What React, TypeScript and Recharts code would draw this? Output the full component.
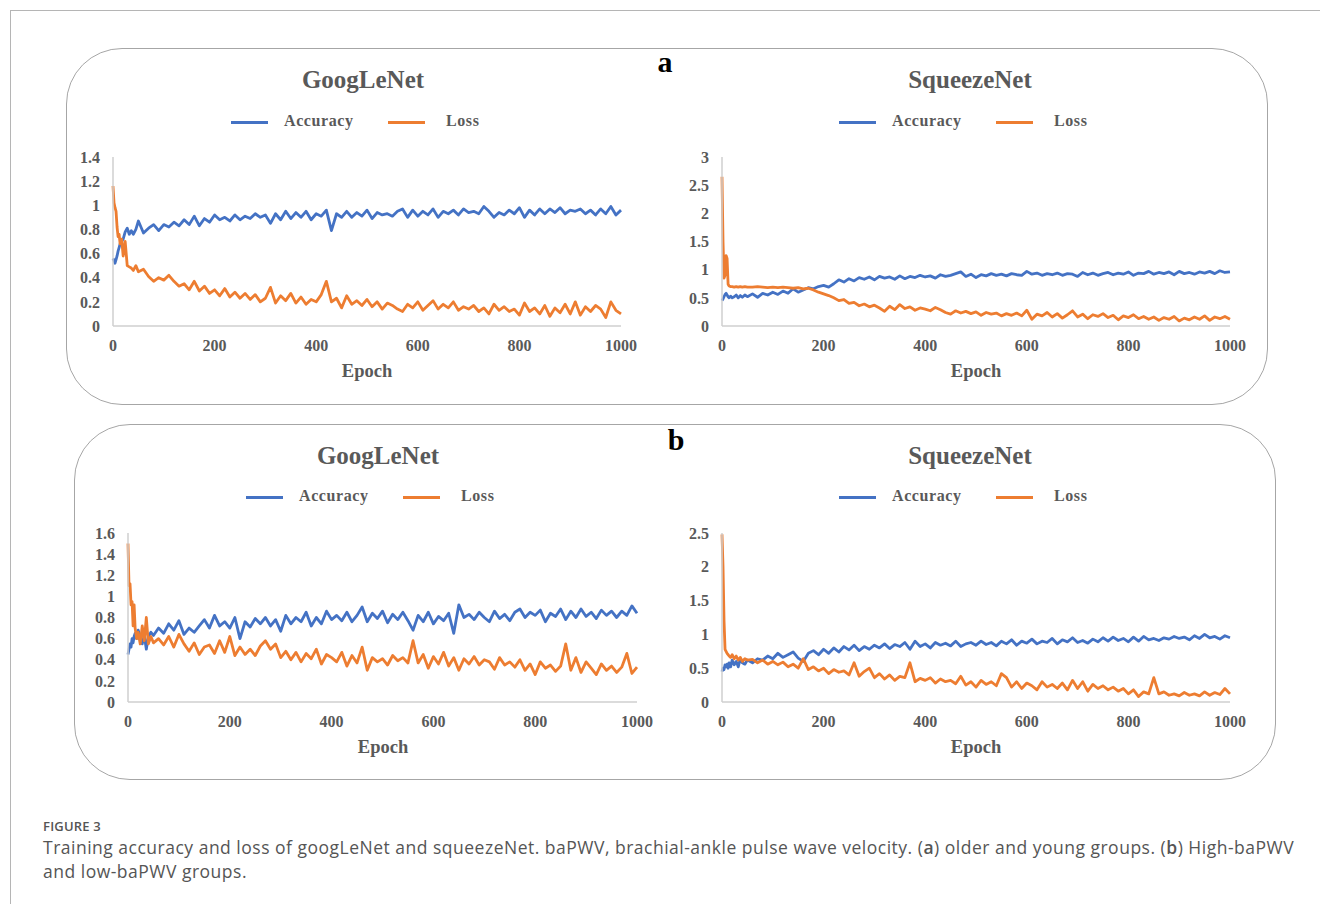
import React from 'react';
import { LineChart, Line, XAxis, YAxis } from 'recharts';

// epochs sampled from the plots (denser at the start where the curves move fast)
const EPOCHS = [
  0, 2, 4, 6, 8, 10, 12, 14, 17, 20, 24, 28, 32, 36, 40, 45, 50,
  60, 70, 80, 90, 100, 110, 120, 130, 140, 150,
  160, 170, 180, 190, 200, 210, 220, 230, 240, 250,
  260, 270, 280, 290, 300, 310, 320, 330, 340, 350,
  360, 370, 380, 390, 400, 410, 420, 430, 440, 450,
  460, 470, 480, 490, 500, 510, 520, 530, 540, 550,
  560, 570, 580, 590, 600, 610, 620, 630, 640, 650,
  660, 670, 680, 690, 700, 710, 720, 730, 740, 750,
  760, 770, 780, 790, 800, 810, 820, 830, 840, 850,
  860, 870, 880, 890, 900, 910, 920, 930, 940, 950,
  960, 970, 980, 990, 1000,
];

const X_TICKS = [0, 200, 400, 600, 800, 1000];

// (a) GoogLeNet
const googAccA = [
  0.56, 0.54, 0.52, 0.55, 0.58, 0.62, 0.65, 0.68, 0.7, 0.72, 0.78, 0.81, 0.76, 0.79, 0.76, 0.8, 0.87,
  0.77, 0.81, 0.84, 0.79, 0.84, 0.82, 0.86, 0.83, 0.88, 0.84,
  0.91, 0.83, 0.89, 0.86, 0.92, 0.88, 0.9, 0.87, 0.92, 0.88,
  0.91, 0.89, 0.93, 0.9, 0.92, 0.85, 0.93, 0.88, 0.95, 0.89,
  0.94, 0.9, 0.95, 0.88, 0.93, 0.91, 0.96, 0.79, 0.93, 0.9,
  0.95, 0.9, 0.94, 0.91, 0.96, 0.89, 0.94, 0.92, 0.93, 0.91,
  0.95, 0.97, 0.9, 0.96, 0.91, 0.95, 0.92, 0.97, 0.9, 0.95,
  0.93, 0.96, 0.92, 0.97, 0.94, 0.95, 0.93, 0.99, 0.95, 0.9,
  0.94, 0.92, 0.96, 0.93, 0.98, 0.9, 0.96, 0.92, 0.97, 0.93,
  0.97, 0.94, 0.98, 0.93, 0.96, 0.95, 0.97, 0.93, 0.96, 0.92,
  0.97, 0.93, 0.99, 0.92, 0.96,
];
const googLossA = [
  1.16, 1.02, 0.98, 0.95, 0.82, 0.74, 0.76, 0.68, 0.72, 0.58, 0.7, 0.5, 0.49, 0.48, 0.46, 0.5, 0.45,
  0.47, 0.41, 0.37, 0.4, 0.38, 0.42, 0.37, 0.33, 0.35, 0.3,
  0.37, 0.29, 0.33, 0.27, 0.3, 0.25, 0.31, 0.24, 0.28, 0.23,
  0.27, 0.22, 0.26, 0.2, 0.23, 0.32, 0.19, 0.25, 0.21, 0.27,
  0.19, 0.24, 0.18, 0.22, 0.2, 0.26, 0.37, 0.2, 0.23, 0.15,
  0.25, 0.18, 0.21, 0.17, 0.22, 0.16, 0.2, 0.14, 0.19, 0.17,
  0.14, 0.12, 0.18, 0.15, 0.2, 0.13, 0.17, 0.21, 0.14, 0.18,
  0.15, 0.2, 0.13, 0.16, 0.14, 0.17, 0.12, 0.15, 0.1, 0.18,
  0.13, 0.16, 0.12, 0.14, 0.09, 0.19, 0.12, 0.15, 0.1, 0.17,
  0.08, 0.15, 0.11, 0.18, 0.1, 0.2, 0.09, 0.16, 0.12, 0.17,
  0.14, 0.07, 0.2, 0.13, 0.1,
];

// (a) SqueezeNet
const squeezeAccA = [
  0.45, 0.48, 0.52, 0.56, 0.58, 0.55, 0.52, 0.5, 0.53, 0.5, 0.52, 0.55, 0.5, 0.54, 0.51, 0.55, 0.52,
  0.57, 0.51, 0.58, 0.55, 0.6, 0.56, 0.62, 0.58, 0.66, 0.6,
  0.64, 0.68, 0.66, 0.7, 0.72, 0.69, 0.75, 0.82, 0.78, 0.84,
  0.8, 0.86, 0.83, 0.87, 0.82, 0.88, 0.85, 0.87, 0.83, 0.89,
  0.84, 0.88, 0.86, 0.9, 0.87, 0.89, 0.85, 0.91, 0.88, 0.9,
  0.93, 0.96, 0.88, 0.92, 0.86, 0.91, 0.89, 0.93, 0.9, 0.92,
  0.89, 0.93, 0.91, 0.9, 0.97, 0.92, 0.94, 0.9, 0.93, 0.91,
  0.94, 0.9, 0.93, 0.92, 0.88, 0.95, 0.91, 0.94, 0.9, 0.93,
  0.95, 0.91, 0.94, 0.92, 0.96, 0.9, 0.94, 0.93, 0.97, 0.92,
  0.95, 0.93, 0.96, 0.91, 0.97, 0.93, 0.95, 0.92, 0.96, 0.94,
  0.97, 0.93, 0.98, 0.95, 0.96,
];
const squeezeLossA = [
  2.65, 1.5, 0.85, 0.9, 1.25, 1.2, 0.74, 0.71, 0.7, 0.7, 0.69, 0.7, 0.69, 0.7, 0.69, 0.7, 0.69,
  0.69, 0.7, 0.69, 0.68, 0.69, 0.68, 0.69, 0.68, 0.67, 0.68,
  0.66, 0.67, 0.64, 0.6, 0.57, 0.54, 0.5, 0.45, 0.47, 0.4,
  0.42, 0.36, 0.39, 0.34, 0.37, 0.32, 0.26, 0.35, 0.29, 0.38,
  0.31, 0.34, 0.28, 0.32, 0.3, 0.27, 0.33, 0.29, 0.24, 0.21,
  0.27, 0.23, 0.26, 0.22, 0.25, 0.19, 0.24, 0.21, 0.23, 0.18,
  0.22, 0.19, 0.23, 0.18, 0.28, 0.12, 0.21, 0.18, 0.24, 0.16,
  0.22, 0.14, 0.2, 0.27, 0.16, 0.21, 0.13, 0.2, 0.17, 0.22,
  0.15, 0.19, 0.11, 0.18, 0.15, 0.2, 0.13, 0.17, 0.12, 0.16,
  0.1, 0.15, 0.12, 0.17, 0.09, 0.14, 0.11, 0.16, 0.12, 0.18,
  0.1, 0.16, 0.13, 0.17, 0.12,
];

// (b) GoogLeNet
const googAccB = [
  0.45, 0.5, 0.55, 0.52, 0.6, 0.56, 0.62, 0.65, 0.6, 0.68, 0.62, 0.55, 0.63, 0.5, 0.62, 0.66, 0.63,
  0.7, 0.65, 0.74, 0.68, 0.77, 0.64, 0.7, 0.66, 0.72, 0.78,
  0.7, 0.82, 0.72, 0.76, 0.7, 0.8, 0.6, 0.76, 0.71, 0.79,
  0.74, 0.8, 0.72, 0.78, 0.67, 0.82, 0.74, 0.8, 0.76, 0.85,
  0.72, 0.8, 0.74, 0.86, 0.78, 0.82, 0.77, 0.85, 0.76, 0.82,
  0.9, 0.76, 0.84, 0.79, 0.86, 0.75, 0.83, 0.78, 0.85, 0.77,
  0.68, 0.82, 0.76, 0.85, 0.74, 0.81, 0.77, 0.84, 0.65, 0.92,
  0.8, 0.83, 0.78, 0.85, 0.8, 0.76, 0.86, 0.79, 0.83, 0.77,
  0.85, 0.88, 0.8, 0.85, 0.82, 0.87, 0.76, 0.84, 0.81, 0.88,
  0.78, 0.86, 0.8, 0.88, 0.81, 0.85, 0.79, 0.87, 0.82, 0.86,
  0.8, 0.86, 0.82, 0.91, 0.84,
];
const googLossB = [
  1.5, 1.1, 1.12, 0.92, 0.95, 0.72, 0.92, 0.7, 0.6, 0.66, 0.55, 0.72, 0.58, 0.8, 0.55, 0.62, 0.56,
  0.6, 0.54, 0.62, 0.52, 0.64, 0.55, 0.48, 0.56, 0.45, 0.52,
  0.54, 0.46, 0.58, 0.47, 0.62, 0.44, 0.52, 0.45, 0.5, 0.44,
  0.53, 0.58, 0.5, 0.55, 0.42, 0.48, 0.4, 0.47, 0.38, 0.46,
  0.41, 0.5, 0.36, 0.45, 0.42, 0.38, 0.47, 0.34, 0.44, 0.37,
  0.52, 0.3, 0.42, 0.38, 0.41, 0.35, 0.44, 0.39, 0.42, 0.37,
  0.58, 0.37, 0.45, 0.32, 0.43, 0.36, 0.47, 0.34, 0.42, 0.3,
  0.41, 0.36, 0.43, 0.35, 0.4, 0.38, 0.31, 0.42, 0.35, 0.38,
  0.33, 0.4, 0.3, 0.36, 0.26, 0.38, 0.32, 0.35, 0.29, 0.34,
  0.55, 0.3, 0.42, 0.28, 0.38, 0.32, 0.26, 0.36, 0.3, 0.34,
  0.28, 0.33, 0.46, 0.27, 0.33,
];

// (b) SqueezeNet
const squeezeAccB = [
  0.45, 0.5, 0.48, 0.55, 0.52, 0.56, 0.5, 0.58, 0.52, 0.62, 0.55, 0.6, 0.52, 0.64, 0.58, 0.56, 0.62,
  0.58, 0.64, 0.62, 0.68, 0.64, 0.72, 0.66, 0.7, 0.74, 0.65,
  0.6, 0.72, 0.76, 0.7, 0.78, 0.72, 0.8, 0.74, 0.82, 0.77,
  0.84, 0.76, 0.82, 0.78, 0.84, 0.8, 0.86, 0.79, 0.85, 0.82,
  0.88, 0.78, 0.9, 0.82, 0.86, 0.8, 0.88, 0.84, 0.87, 0.83,
  0.9, 0.82, 0.86, 0.88, 0.84, 0.9, 0.85, 0.88, 0.83, 0.9,
  0.86, 0.92, 0.84, 0.9, 0.87, 0.93, 0.86, 0.9, 0.88, 0.94,
  0.86, 0.92, 0.89, 0.95, 0.88, 0.91, 0.87, 0.93, 0.89, 0.95,
  0.9, 0.96, 0.91, 0.94, 0.89, 0.96, 0.9, 0.97, 0.92, 0.94,
  0.91, 0.95, 0.93, 0.97, 0.94, 0.96, 0.92, 0.98, 0.94, 1.0,
  0.95, 0.97, 0.93, 0.98, 0.95,
];
const squeezeLossB = [
  2.48, 2.0, 1.2, 0.78, 0.75, 0.72, 0.7, 0.68, 0.66, 0.7, 0.64, 0.68, 0.62, 0.66, 0.6, 0.64, 0.62,
  0.63, 0.58, 0.62, 0.56, 0.6, 0.55, 0.59, 0.52, 0.56, 0.5,
  0.64, 0.48, 0.52, 0.46, 0.5, 0.42, 0.48, 0.44, 0.46, 0.4,
  0.58, 0.38, 0.45, 0.5, 0.36, 0.42, 0.34, 0.4, 0.32, 0.38,
  0.36, 0.58, 0.3, 0.35, 0.32, 0.36, 0.28, 0.34, 0.3, 0.32,
  0.27, 0.38, 0.25, 0.3, 0.22, 0.32, 0.26, 0.3, 0.24, 0.42,
  0.36, 0.22, 0.3, 0.2, 0.28, 0.24, 0.18, 0.3, 0.22, 0.26,
  0.2, 0.28, 0.18, 0.32, 0.2, 0.3, 0.16, 0.26, 0.2, 0.24,
  0.18, 0.22, 0.16, 0.2, 0.12, 0.18, 0.08, 0.15, 0.12, 0.36,
  0.12, 0.15, 0.1, 0.12, 0.09, 0.14, 0.1, 0.12, 0.09, 0.15,
  0.1, 0.14, 0.11, 0.2, 0.12,
];

const BLUE = '#4472C4';
const ORANGE = '#ED7D31';
const GREY_TEXT = '#595959';
const SERIF = '"Liberation Serif", "Times New Roman", serif';
const SANS = '"Open Sans", sans-serif';

const rows = (acc: number[], loss: number[]) =>
  EPOCHS.map((epoch, i) => ({ epoch, acc: acc[i], loss: loss[i] }));

interface PanelChartProps {
  title: string;
  acc: number[];
  loss: number[];
  yTicks: number[];
  plotLeft: number;
  plotTop: number;
  plotW: number;
  plotH: number;
  titleX: number;
  titleY: number;
  legendX: number;
  legendY: number;
  epochX: number;
  epochY: number;
}

function PanelChart(p: PanelChartProps) {
  const yw = 60;
  const mTop = 10;
  const mRight = 40;
  const xh = 40;
  const tick = { fill: GREY_TEXT, fontSize: 16, fontWeight: 700, fontFamily: SERIF };
  const label: React.CSSProperties = {
    position: 'absolute',
    fontFamily: SERIF,
    fontWeight: 700,
    color: GREY_TEXT,
    whiteSpace: 'nowrap',
    lineHeight: 1,
  };
  return (
    <>
      <div style={{ ...label, left: p.titleX, top: p.titleY, fontSize: 25, transform: 'translate(-50%, -50%)' }}>
        {p.title}
      </div>
      <div style={{ position: 'absolute', left: p.legendX, top: p.legendY - 1.5, width: 37, height: 3, background: BLUE }} />
      <div style={{ ...label, left: p.legendX + 53, top: p.legendY, fontSize: 16, letterSpacing: 0.6, transform: 'translateY(-55%)' }}>
        Accuracy
      </div>
      <div style={{ position: 'absolute', left: p.legendX + 157, top: p.legendY - 1.5, width: 37, height: 3, background: ORANGE }} />
      <div style={{ ...label, left: p.legendX + 215, top: p.legendY, fontSize: 16, letterSpacing: 0.6, transform: 'translateY(-55%)' }}>
        Loss
      </div>
      <div style={{ ...label, left: p.epochX, top: p.epochY, fontSize: 18.5, transform: 'translate(-50%, -50%)' }}>
        Epoch
      </div>
      <div style={{ position: 'absolute', left: p.plotLeft - yw, top: p.plotTop - mTop }}>
        <LineChart
          width={p.plotW + yw + mRight}
          height={p.plotH + mTop + xh}
          data={rows(p.acc, p.loss)}
          margin={{ top: mTop, right: mRight, bottom: 0, left: 0 }}
        >
          <XAxis
            dataKey="epoch"
            type="number"
            domain={[0, 1000]}
            ticks={X_TICKS}
            interval={0}
            height={xh}
            tickLine={false}
            tickMargin={8}
            axisLine={{ stroke: '#cfcfcf', strokeWidth: 1.5 }}
            tick={tick}
          />
          <YAxis
            type="number"
            domain={[0, p.yTicks[p.yTicks.length - 1]]}
            ticks={p.yTicks}
            interval={0}
            width={yw}
            tickLine={false}
            tickMargin={7}
            axisLine={{ stroke: '#cfcfcf', strokeWidth: 1.5 }}
            tick={tick}
          />
          <Line type="linear" dataKey="acc" stroke={BLUE} strokeWidth={2.8} strokeLinejoin="round" dot={false} isAnimationActive={false} />
          <Line type="linear" dataKey="loss" stroke={ORANGE} strokeWidth={2.8} strokeLinejoin="round" dot={false} isAnimationActive={false} />
        </LineChart>
      </div>
    </>
  );
}

const panelBox: React.CSSProperties = {
  position: 'absolute',
  border: '1.5px solid #a6a6a6',
  borderRadius: 56,
  boxSizing: 'border-box',
};

const panelLetter: React.CSSProperties = {
  position: 'absolute',
  transform: 'translate(-50%, -50%)',
  fontFamily: SERIF,
  fontWeight: 700,
  fontSize: 30,
  color: '#000',
  lineHeight: 1,
};

export default function App() {
  return (
    <div style={{ position: 'absolute', left: 0, top: 0, width: 1320, height: 904, background: '#fff', overflow: 'hidden' }}>
      {/* outer figure frame */}
      <div style={{ position: 'absolute', left: 10, top: 10, width: 1330, height: 910, border: '1px solid #b5b5b5', boxSizing: 'border-box' }} />

      <div style={{ ...panelBox, left: 66, top: 48, width: 1202, height: 357 }} />
      <div style={{ ...panelBox, left: 74, top: 424, width: 1202, height: 356 }} />

      <div style={{ ...panelLetter, left: 665, top: 62 }}>a</div>
      <div style={{ ...panelLetter, left: 676, top: 440 }}>b</div>

      <PanelChart title="GoogLeNet" acc={googAccA} loss={googLossA} yTicks={[0, 0.2, 0.4, 0.6, 0.8, 1, 1.2, 1.4]}
        plotLeft={113} plotTop={157} plotW={508} plotH={169}
        titleX={363} titleY={79} legendX={231} legendY={122} epochX={367} epochY={371} />
      <PanelChart title="SqueezeNet" acc={squeezeAccA} loss={squeezeLossA} yTicks={[0, 0.5, 1, 1.5, 2, 2.5, 3]}
        plotLeft={722} plotTop={157} plotW={508} plotH={169}
        titleX={970} titleY={79} legendX={839} legendY={122} epochX={976} epochY={371} />
      <PanelChart title="GoogLeNet" acc={googAccB} loss={googLossB} yTicks={[0, 0.2, 0.4, 0.6, 0.8, 1, 1.2, 1.4, 1.6]}
        plotLeft={128} plotTop={533} plotW={509} plotH={169}
        titleX={378} titleY={455} legendX={246} legendY={497} epochX={383} epochY={747} />
      <PanelChart title="SqueezeNet" acc={squeezeAccB} loss={squeezeLossB} yTicks={[0, 0.5, 1, 1.5, 2, 2.5]}
        plotLeft={722} plotTop={533} plotW={508} plotH={169}
        titleX={970} titleY={455} legendX={839} legendY={497} epochX={976} epochY={747} />

      <div style={{ position: 'absolute', left: 43, top: 817, fontFamily: SANS, fontWeight: 600, fontSize: 13, color: '#555', letterSpacing: 0.2 }}>
        FIGURE 3
      </div>
      <div style={{ position: 'absolute', left: 43, top: 835, fontFamily: SANS, fontSize: 17.5, letterSpacing: 0.5, lineHeight: '24px', color: '#555', whiteSpace: 'nowrap' }}>
        Training accuracy and loss of googLeNet and squeezeNet. baPWV, brachial-ankle pulse wave velocity. (<b style={{ fontWeight: 600 }}>a</b>) older and young groups. (<b style={{ fontWeight: 600 }}>b</b>) High-baPWV
        <br />
        and low-baPWV groups.
      </div>
    </div>
  );
}
